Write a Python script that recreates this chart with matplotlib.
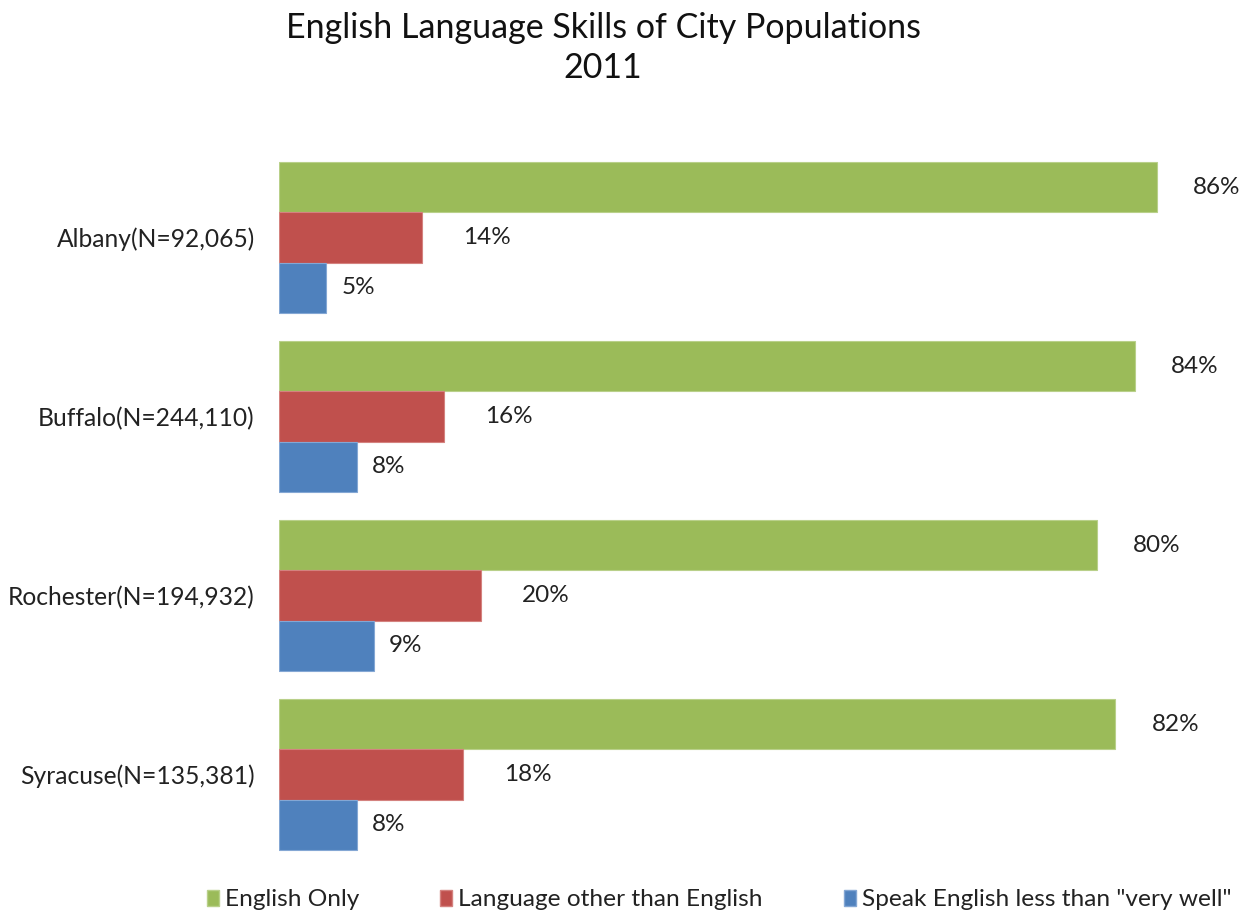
import matplotlib
matplotlib.use("Agg")
import matplotlib.pyplot as plt
import numpy as np
from matplotlib.patches import Patch

cities = ["Albany(N=92,065)", "Buffalo(N=244,110)", "Rochester(N=194,932)", "Syracuse(N=135,381)"]
series_names = ["English Only", "Language other than English", "Speak English less than \"very well\""]
english_only = [86, 84, 80, 82]
other_language = [14, 16, 20, 18]
less_than_very_well = [5, 8, 9, 8]
bar_lengths = {
    "English Only": [86.0, 83.8, 80.1, 81.9],
    "Language other than English": [14.0, 16.2, 19.8, 18.0],
    "Speak English less than \"very well\"": [4.6, 7.6, 9.3, 7.6],
}
labels = [english_only, other_language, less_than_very_well]
colors = ["#9BBB59", "#C0504D", "#4F81BD"]
edges = ["#B9D08A", "#D4827F", "#84A7D4"]
pads = [26, 29.5, 11]

plt.rcParams['font.family'] = ['Lato', 'DejaVu Sans']

fig = plt.figure(figsize=(12.56, 9.15), dpi=100)
ax = fig.add_axes([279/1256, 1-864/915, (1198-279)/1256, (864-148)/915])

y = np.arange(len(cities))
h = 0.28
offsets = [-h, 0, h]
for i, name in enumerate(series_names):
    bars = ax.barh(y + offsets[i], bar_lengths[name], height=h, color=colors[i],
                   edgecolor=edges[i], linewidth=0.8, label=name)
    ax.bar_label(bars, labels=[f"{v}%" for v in labels[i]], padding=pads[i],
                 fontsize=17.5, color="#222222")

ax.set_xlim(0, 90)
ax.set_ylim(3.5, -0.5)
ax.set_yticks(y)
ax.set_yticklabels(cities, fontsize=17.7, color="#222222")
ax.tick_params(axis='y', length=0, pad=17.5)
ax.set_xticks([])
for s in ax.spines.values():
    s.set_visible(False)

fig.text(603/1256, 1-28/915, "English Language Skills of City Populations", ha='center', va='center',
         fontsize=24.5, color="#111111")
fig.text(603/1256, 1-68/915, "2011", ha='center', va='center', fontsize=24.5, color="#111111")

handles = [Patch(facecolor=c, edgecolor=e) for c, e in zip(colors, edges)]
fig.legend(handles, series_names, loc='center', bbox_to_anchor=(719/1256, 1-900/915), ncol=3,
           frameon=False, fontsize=17.6, handlelength=0.5, handleheight=0.6, handletextpad=0.25,
           columnspacing=3.3, labelcolor="#222222")

fig.savefig("out.png", dpi=100)
